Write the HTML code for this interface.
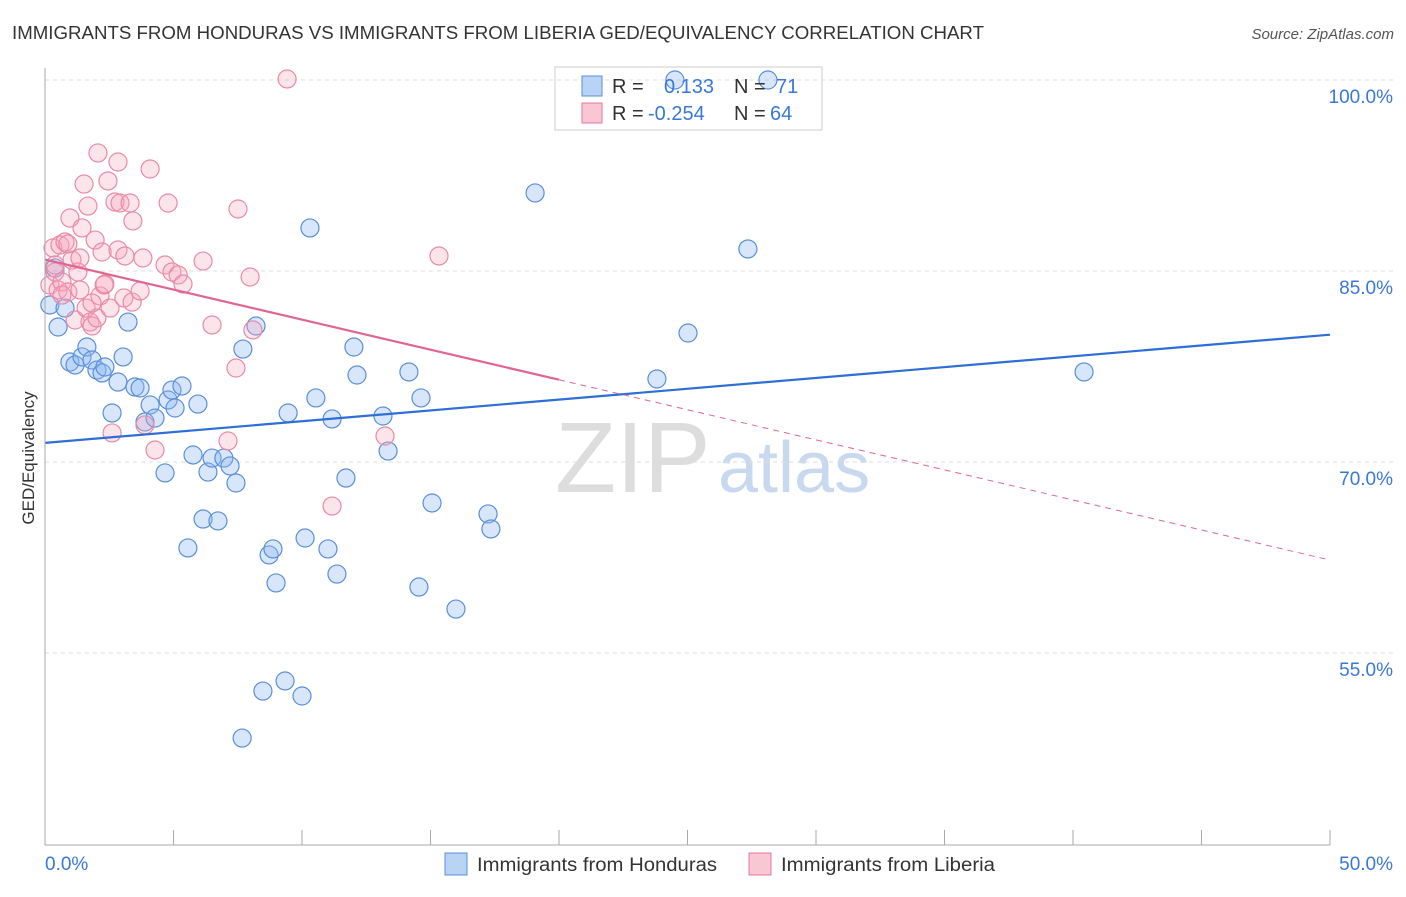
<!DOCTYPE html>
<html><head><meta charset="utf-8"><style>
body{margin:0;background:#fff;font-family:"Liberation Sans",sans-serif;}
svg text{font-family:"Liberation Sans",sans-serif;}
</style></head><body>
<svg id="c" width="1406" height="892">
<text x="12" y="39" font-size="18" fill="#333" textLength="972" lengthAdjust="spacingAndGlyphs">IMMIGRANTS FROM HONDURAS VS IMMIGRANTS FROM LIBERIA GED/EQUIVALENCY CORRELATION CHART</text>
<text x="1394" y="39" font-size="15" fill="#555" font-style="italic" text-anchor="end">Source: ZipAtlas.com</text>
<text transform="translate(34,458) rotate(-90)" font-size="17" fill="#333" text-anchor="middle">GED/Equivalency</text>
<text x="555" y="492" font-size="100" fill="#ddd" font-family="Liberation Serif">ZIP</text>
<text x="718" y="492" font-size="72" fill="#c8d8ef">atlas</text>
<rect x="555" y="67" width="267" height="63" fill="#fff" stroke="#ccc"/>
<g id="grid"></g><g id="pts"></g><g id="lines"></g>
<line x1="45" y1="68" x2="45" y2="845" stroke="#aaa"/>
<line x1="45" y1="845" x2="1330" y2="845" stroke="#aaa"/>
<text x="45" y="870" font-size="19" fill="#3a78d6">0.0%</text>
<text x="1393" y="870" font-size="19" fill="#3a78d6" text-anchor="end">50.0%</text>
<rect x="582" y="76" width="20" height="20" fill="#b9d3f5" stroke="#5b8fd9"/>
<rect x="582" y="103" width="20" height="20" fill="#f9c6d4" stroke="#e27a9b"/>
<text x="612" y="93" font-size="20" fill="#333">R = <tspan x="664" fill="#3a78d6">0.133</tspan><tspan x="734" fill="#333">N = </tspan><tspan x="776" fill="#3a78d6">71</tspan></text>
<text x="612" y="120" font-size="20" fill="#333">R = <tspan x="648" fill="#3a78d6">-0.254</tspan><tspan x="734" fill="#333">N = </tspan><tspan x="770" fill="#3a78d6">64</tspan></text>
<rect x="445" y="853" width="22" height="22" fill="#b9d3f5" stroke="#5b8fd9"/>
<text x="477" y="871" font-size="19" fill="#333" textLength="240" lengthAdjust="spacingAndGlyphs">Immigrants from Honduras</text>
<rect x="749" y="853" width="22" height="22" fill="#f9c6d4" stroke="#e27a9b"/>
<text x="781" y="871" font-size="19" fill="#333" textLength="214" lengthAdjust="spacingAndGlyphs">Immigrants from Liberia</text>
</svg>
<script>
const yTicks=[55,70,85,100];
const xTicks=[0,5,10,15,20,25,30,35,40,45,50];
const bluePx=[[55,268],[50,305],[58,327],[65,308],[70,362],[75,365],[82,357],[87,347],[92,360],[97,370],[102,373],[105,367],[112,413],[118,382],[123,357],[128,322],[135,387],[140,388],[145,422],[150,405],[155,418],[165,473],[168,400],[172,390],[175,408],[182,386],[188,548],[193,455],[198,404],[203,519],[208,472],[212,458],[218,521],[224,458],[230,466],[236,483],[242,738],[243,349],[256,326],[263,691],[269,555],[273,549],[276,583],[285,681],[288,413],[302,696],[305,538],[310,228],[316,398],[328,549],[332,419],[337,574],[346,478],[354,347],[357,375],[383,416],[388,451],[409,372],[419,587],[421,398],[432,503],[456,609],[488,514],[491,529],[535,193],[657,379],[688,333],[748,249],[1084,372],[675,80],[768,80]];
const pinkPx=[[50,285],[53,248],[55,272],[58,290],[60,245],[62,282],[65,242],[68,292],[70,218],[72,260],[75,320],[78,272],[80,290],[82,228],[84,184],[86,308],[88,206],[90,322],[92,326],[95,240],[97,318],[98,153],[100,296],[102,252],[104,285],[108,181],[110,308],[112,433],[115,202],[118,162],[118,250],[120,203],[124,298],[125,256],[130,203],[132,302],[133,221],[140,291],[143,258],[145,425],[150,169],[155,450],[165,265],[168,203],[172,272],[178,275],[183,284],[203,261],[212,325],[236,368],[238,209],[250,277],[253,330],[228,441],[287,79],[332,506],[385,436],[439,256],[55,265],[62,295],[68,244],[80,258],[92,303],[105,284]];
const blueX=bluePx.map(p=>+((p[0]-45)/1285*50).toFixed(2));
const blueY=bluePx.map(p=>+(100-(p[1]-80)/12.733).toFixed(2));
const pinkX=pinkPx.map(p=>+((p[0]-45)/1285*50).toFixed(2));
const pinkY=pinkPx.map(p=>+(100-(p[1]-80)/12.733).toFixed(2));
const blueTrend=[71.5,80.0];
const pinkTrend=[85.9,62.3];
const NS='http://www.w3.org/2000/svg';
const sx=v=>45+v/50*1285, sy=v=>80+(100-v)*12.733;
function mk(t,a,p){const e=document.createElementNS(NS,t);for(const k in a)e.setAttribute(k,a[k]);p.appendChild(e);return e;}
const grid=document.getElementById('grid');
yTicks.forEach(v=>{
 const l=mk('line',{x1:45,x2:1393,y1:sy(v),y2:sy(v),stroke:'#ddd','stroke-dasharray':'4,4'},grid);
 
 
 const t=mk('text',{x:1393,y:sy(v)+23,'font-size':19,fill:'#3a78d6','text-anchor':'end'},grid);
 t.textContent=v.toFixed(1)+'%';
 
 
});
xTicks.forEach(v=>{
 const l=mk('line',{x1:sx(v),x2:sx(v),y1:830,y2:845,stroke:'#aaa'},grid);
 
 
});
const pts=document.getElementById('pts');
blueX.forEach((x,i)=>{
 const c=mk('circle',{cx:sx(x),cy:sy(blueY[i]),r:9,fill:'rgba(140,182,240,0.35)',stroke:'#5b8fd9','stroke-width':1.2},pts);
 
 
});
pinkX.forEach((x,i)=>{
 const c=mk('circle',{cx:sx(x),cy:sy(pinkY[i]),r:9,fill:'rgba(245,165,190,0.3)',stroke:'#e98aa8','stroke-width':1.2},pts);
 
 
});
const ln=document.getElementById('lines');
let b=mk('line',{x1:sx(0),y1:sy(blueTrend[0]),x2:sx(50),y2:sy(blueTrend[1]),stroke:'#2d6fd6','stroke-width':2.2},ln);


const xs=20, pm=pinkTrend[0]+(pinkTrend[1]-pinkTrend[0])*xs/50;
let p1=mk('line',{x1:sx(0),y1:sy(pinkTrend[0]),x2:sx(xs),y2:sy(pm),stroke:'#e0668f','stroke-width':2.2},ln);


let p2=mk('line',{x1:sx(xs),y1:sy(pm),x2:sx(50),y2:sy(pinkTrend[1]),stroke:'#e0668f','stroke-width':1,'stroke-dasharray':'6,5'},ln);


</script>
</body></html>
